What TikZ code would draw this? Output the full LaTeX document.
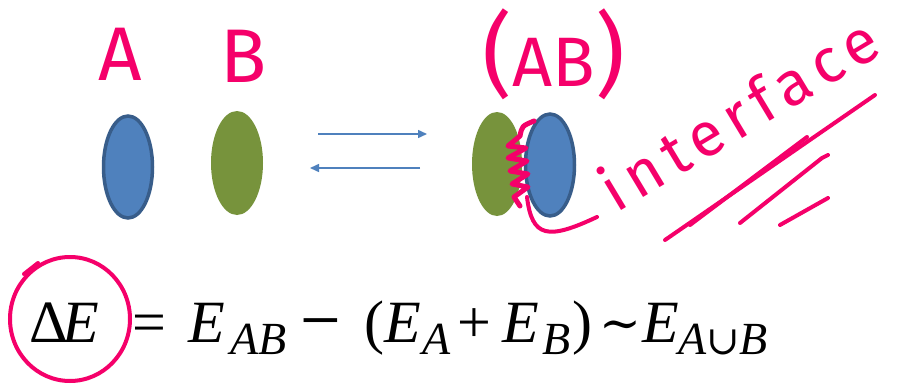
\documentclass[tikz,border=0pt]{standalone}
\usepackage{fontspec}
\usepackage{graphicx}
\setmainfont{Liberation Serif}
\newfontfamily\handfont{Fira Sans}
\newfontfamily\symfont{DejaVu Serif}
\usetikzlibrary{shapes.geometric,arrows.meta}
\definecolor{ink}{HTML}{F5006A}
\definecolor{blobblue}{HTML}{4F81BD}
\definecolor{blobedge}{HTML}{385D8A}
\definecolor{blobgreen}{HTML}{77933C}
\newcommand{\mkb}[2]{\makebox[#1pt][l]{#2}}
\newcommand{\subx}[1]{\raisebox{-12pt}{\fontsize{46}{46}\selectfont\textit{#1}}}
\tikzset{
  blueblob/.style={ellipse, fill=blobblue, draw=blobedge, line width=3.5pt, minimum width=49pt, minimum height=102pt, inner sep=0pt},
  greenblob/.style={ellipse, fill=blobgreen, minimum width=52pt, minimum height=104pt, inner sep=0pt},
  flow/.style={draw=blobblue, line width=1.5pt, -{Triangle[length=9pt,width=8pt]}},
  hand/.style={text=ink, font=\handfont\fontsize{76}{76}\selectfont, inner sep=0pt},
  pen/.style={draw=ink, line width=4pt, line cap=round, line join=round},
}
\begin{document}
\begin{tikzpicture}[x=1pt,y=-1pt]
\useasboundingbox[fill=white] (0,0) rectangle (898,388);
% blobs
\node[blueblob] (a) at (128,167) {};
\node[greenblob] (b) at (237,163) {};
\node[greenblob, minimum width=50pt] (bb) at (497,164) {};
\node[blueblob] (ab) at (550,165) {};
% arrows
\coordinate (f1) at (318,134); \coordinate (f2) at (427,134);
\coordinate (r1) at (420,168); \coordinate (r2) at (310,168);
\draw[flow] (f1) -- (f2);
\draw[flow] (r1) -- (r2);
% labels
\node[hand] (la) at (120,54) {A};
\node[hand] (lb) at (244,56) {B};
\node[hand, font=\handfont\fontsize{70}{70}\selectfont] (lab) at (554,54) {{\fontsize{92}{92}\selectfont(}AB{\fontsize{92}{92}\selectfont)}};
\node[hand, rotate=31, anchor=base west, font=\handfont\fontsize{62}{62}\selectfont\addfontfeature{LetterSpace=13}] (lint) at (616,214) {interface};
% interface scribble
\draw[pen, line width=5pt] (534,121) .. controls (522,126) .. (520,136) -- (508,146) -- (526,148) -- (508,158) -- (527,161) -- (510,171) -- (528,174) -- (512,184) -- (528,187) -- (514,197) -- (520,206);
\draw[pen] (527,197) .. controls (532,238) and (548,240) .. (597,217);
% underlines
\draw[pen] (665,240) -- (875,95);
\draw[pen] (690,225) -- (807,137);
\draw[pen] (740,223) -- (822,158) -- (828,155);
\draw[pen] (780,225) -- (828,198);
% equation
\node[anchor=base west, inner sep=0pt, font=\fontsize{60}{60}\selectfont] (eq) at (29,342)
 {\mkb{33}{Δ}\mkb{70}{\textit{E}}\mkb{56}{=}\mkb{42}{\textit{E}}\mkb{70}{\subx{AB}}\mkb{64}{\raisebox{-4pt}{\scalebox{1.2}[1.3]{−}}}\mkb{20}{(}\mkb{38}{\textit{E}}\mkb{35}{\subx{A}}\mkb{45}{+}\mkb{40}{\textit{E}}\mkb{30}{\subx{B}}\mkb{27}{)}\mkb{43}{\raisebox{2pt}{\symfont\fontsize{50}{50}\selectfont ∼}}\mkb{36}{\textit{E}}\subx{A{\symfont\upshape\fontsize{40}{40}\selectfont ∪}B}};
% circle round Delta E
\node[ellipse, draw=ink, line width=4pt, minimum width=120pt, minimum height=124pt] (ring) at (70,319) {};
\coordinate (hk) at (24,274);
\draw[pen] (hk) -- ++(14,-11);
\end{tikzpicture}
\end{document}
